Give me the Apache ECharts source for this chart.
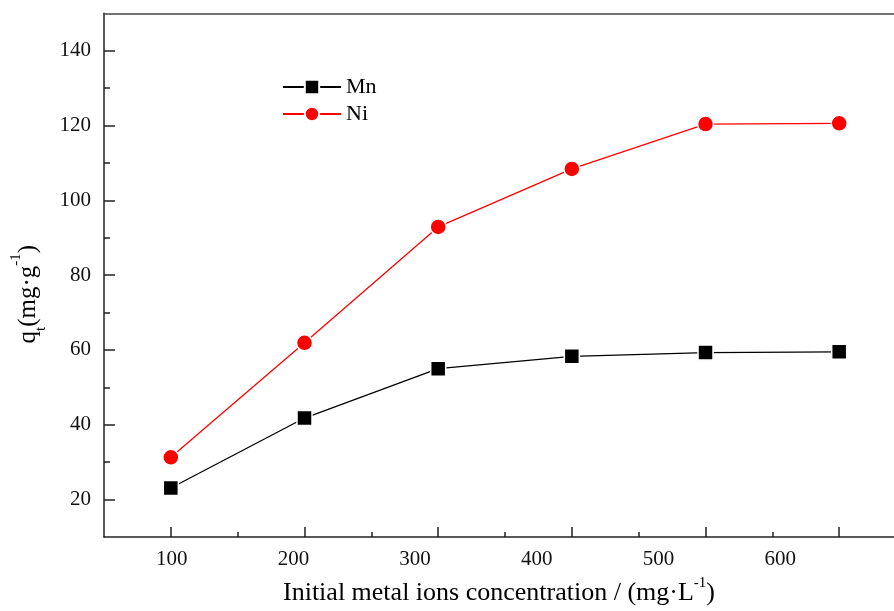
<!DOCTYPE html>
<html>
<head>
<meta charset="utf-8">
<script src="https://cdn.jsdelivr.net/npm/echarts@6/dist/echarts.min.js"></script>
<style>
  html, body { margin: 0; padding: 0; background: #fff; }
  #chart { width: 894px; height: 611px; }
</style>
</head>
<body>
<div id="chart"></div>
<script>
// Initial concentration (mg/L) and adsorption capacity q_t (mg/g)
const concentrations = [100, 200, 300, 400, 500, 600];
const mnCapacity = [23.1, 41.8, 55.0, 58.3, 59.3, 59.5];
const niCapacity = [31.3, 61.9, 92.9, 108.4, 120.4, 120.6];

// Axis ticks and labels
const xMajorTicks = [100, 200, 300, 400, 500, 600];
const xMinorTicks = [150, 250, 350, 450, 550];
const xTickLabels = [100, 200, 300, 400, 500, 600];
const yMajorTicks = [20, 40, 60, 80, 100, 120, 140];
const yMinorTicks = [30, 50, 70, 90, 110, 130];

const FONT = '"Liberation Serif", "Times New Roman", serif';
const AXIS_COLOR = '#222';

const chart = echarts.init(document.getElementById('chart'), null, { renderer: 'canvas' });

const toPairs = (xs, ys) => xs.map((x, i) => [x, ys[i]]);

const hiddenLine = { show: false, onZero: false };
const X_MIN = 50, X_MAX = 641;

chart.setOption({
  animation: false,
  backgroundColor: '#fff',
  grid: { left: 104, top: 13.3, right: 0, height: 524.2, show: false },
  legend: {
    orient: 'vertical',
    left: 282, top: 76, padding: 0,
    itemWidth: 58, itemHeight: 18, itemGap: 5,
    textStyle: { fontFamily: FONT, fontSize: 22, color: '#000' },
    data: ['Mn', 'Ni']
  },
  xAxis: [
    {
      type: 'value', min: X_MIN, max: X_MAX, position: 'bottom',
      axisLine: { show: true, onZero: false, lineStyle: { color: AXIS_COLOR, width: 1.5 } },
      axisTick: { show: true, inside: true, length: 10, customValues: xMajorTicks,
                  lineStyle: { color: AXIS_COLOR, width: 1.5 } },
      axisLabel: { show: false },
      splitLine: { show: false },
      name: '{m|Initial metal ions concentration / (mg·L}{sup|-1}{m|)}',
      nameLocation: 'middle', nameGap: 39,
      nameTextStyle: {
        fontFamily: FONT, fontSize: 26, color: '#000',
        rich: {
          m: { fontFamily: FONT, fontSize: 26, color: '#000', lineHeight: 34 },
          sup: { fontFamily: FONT, fontSize: 15, color: '#000', verticalAlign: 'top' }
        }
      }
    },
    {
      type: 'value', min: X_MIN, max: X_MAX, position: 'bottom',
      axisLine: hiddenLine,
      axisTick: { show: true, inside: true, length: 5, customValues: xMinorTicks,
                  lineStyle: { color: AXIS_COLOR, width: 1.5 } },
      axisLabel: { show: false },
      splitLine: { show: false }
    },
    {
      // tick-label scale of the horizontal axis
      type: 'value', min: 44.4, max: 693.5, position: 'bottom',
      axisLine: hiddenLine,
      axisTick: { show: false },
      axisLabel: { show: true, customValues: xTickLabels, margin: 12,
                   fontFamily: FONT, fontSize: 21, color: '#111' },
      splitLine: { show: false }
    },
    {
      // frame line along the top
      type: 'value', min: X_MIN, max: X_MAX, position: 'top',
      axisLine: { show: true, onZero: false, lineStyle: { color: '#444', width: 1.5 } },
      axisTick: { show: false },
      axisLabel: { show: false },
      splitLine: { show: false }
    }
  ],
  yAxis: [
    {
      type: 'value', min: 10, max: 150, position: 'left',
      axisLine: { show: true, onZero: false, lineStyle: { color: AXIS_COLOR, width: 1.5 } },
      axisTick: { show: true, inside: true, length: 11, customValues: yMajorTicks,
                  lineStyle: { color: AXIS_COLOR, width: 1.5 } },
      axisLabel: { show: true, customValues: yMajorTicks, margin: 13,
                   fontFamily: FONT, fontSize: 21, color: '#111' },
      splitLine: { show: false },
      name: '{m|q}{sub|t}{m|(mg·g}{sup|-1}{m|)}',
      nameLocation: 'middle', nameRotate: 90, nameGap: 50,
      nameTextStyle: {
        fontFamily: FONT, fontSize: 25, color: '#000',
        padding: [0, 38, 0, 0],
        rich: {
          m: { fontFamily: FONT, fontSize: 25, color: '#000', lineHeight: 40 },
          sub: { fontFamily: FONT, fontSize: 15, color: '#000', verticalAlign: 'bottom' },
          sup: { fontFamily: FONT, fontSize: 15, color: '#000', verticalAlign: 'top' }
        }
      }
    },
    {
      type: 'value', min: 10, max: 150, position: 'left',
      axisLine: hiddenLine,
      axisTick: { show: true, inside: true, length: 6, customValues: yMinorTicks,
                  lineStyle: { color: AXIS_COLOR, width: 1.5 } },
      axisLabel: { show: false },
      splitLine: { show: false }
    }
  ],
  series: [
    {
      name: 'Mn', type: 'line', xAxisIndex: 0, yAxisIndex: 0,
      data: toPairs(concentrations, mnCapacity),
      symbol: 'rect', symbolSize: 15,
      itemStyle: { color: '#000', borderColor: '#fff', borderWidth: 1.5 },
      lineStyle: { color: '#000', width: 1.3 },
      z: 3
    },
    {
      name: 'Ni', type: 'line', xAxisIndex: 0, yAxisIndex: 0,
      data: toPairs(concentrations, niCapacity),
      symbol: 'circle', symbolSize: 16,
      itemStyle: { color: '#ff0000', borderColor: '#fff', borderWidth: 1.5 },
      lineStyle: { color: '#ff0000', width: 1.3 },
      z: 4
    }
  ]
});
</script>
</body>
</html>
